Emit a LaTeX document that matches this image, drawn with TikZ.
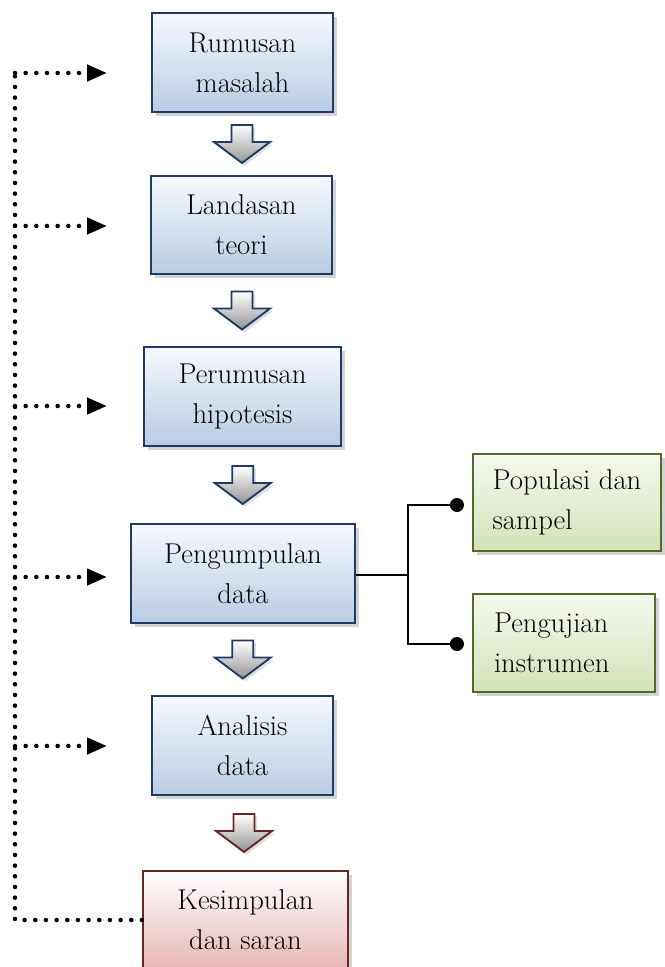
\documentclass[tikz,border=0pt]{standalone}
\usepackage{tikz}
\usetikzlibrary{arrows.meta,calc,positioning,shadows}

\definecolor{navyline}{HTML}{1F3A64}
\definecolor{bluetop}{HTML}{F6F9FD}
\definecolor{bluebot}{HTML}{B8CCE4}
\definecolor{oliveline}{HTML}{55692B}
\definecolor{greentop}{HTML}{F5F9EE}
\definecolor{greenbot}{HTML}{D3E2B7}
\definecolor{maroonline}{HTML}{6A2626}
\definecolor{redbot}{HTML}{E5B7B6}

\newdimen\px
\px=0.75pt

% hollow down arrow between two boxes
\newcommand{\stepdown}[3]{%
  \path ($(#2.south)!0.5!(#3.north)$) coordinate (mid);
  \shade[top color=white,bottom color=black!42,draw=#1,line width=1.4pt,
    drop shadow={shadow xshift=2pt,shadow yshift=-2pt,opacity=0.25}]
    ([shift={(-10.5,-19)}]mid) -- ++(21,0) -- ++(0,17) -- ++(17.5,0)
    -- ++(-28,21) -- ++(-28,-21) -- ++(17.5,0) -- cycle;
}

\begin{document}
\begin{tikzpicture}[
    x=0.75pt,y=-0.75pt,
    box/.style={draw=navyline,line width=1.6pt,top color=bluetop,bottom color=bluebot,
      align=center,inner sep=0pt,text=black,font=\fontsize{21.5}{30}\selectfont,
      drop shadow={shadow xshift=3pt,shadow yshift=-3pt,opacity=0.35}},
    subbox/.style={box,draw=oliveline,top color=greentop,bottom color=greenbot,align=left},
    endbox/.style={box,draw=maroonline,top color=white,bottom color=redbot},
    dotline/.style={line width=3.4pt,line cap=round,dash pattern=on 0pt off 8pt},
    dotarrow/.style={dotline,-{Triangle[length=15pt,width=12pt]}},
    link/.style={line width=1.4pt,-{Circle[length=10.5pt]}}
  ]
    \useasboundingbox (0,0) rectangle (664,967);

    % main column
    \node[box,minimum width=181*\px,minimum height=99*\px] (rumusan) at (242.5,62.5) {Rumusan\\masalah};
    \node[box,minimum width=181*\px,minimum height=98*\px] (landasan) at (241.5,225) {Landasan\\teori};
    \node[box,minimum width=197*\px,minimum height=99*\px] (hipotesis) at (242.5,396.5) {Perumusan\\hipotesis};
    \node[box,minimum width=224*\px,minimum height=99*\px] (pengumpulan) at (243,573.5) {Pengumpulan\\data};
    \node[box,minimum width=181*\px,minimum height=99*\px] (analisis) at (242.5,745.5) {Analisis\\data};
    \node[endbox,minimum width=205*\px,minimum height=98*\px] (kesimpulan) at (245.5,920) {Kesimpulan\\dan saran};

    % side boxes
    \node[subbox,minimum width=188*\px,minimum height=97*\px] (populasi) at (567,502.5) {Populasi dan\\sampel};
    \node[subbox,text width=140*\px,minimum width=182*\px,minimum height=98*\px] (pengujian) at (564,643) {Pengujian\\instrumen};

    % hollow arrows
    \stepdown{navyline}{rumusan}{landasan}
    \stepdown{navyline}{landasan}{hipotesis}
    \stepdown{navyline}{hipotesis}{pengumpulan}
    \stepdown{navyline}{pengumpulan}{analisis}
    \stepdown{maroonline}{analisis}{kesimpulan}

    % feedback rail
    \coordinate (rail) at (15,73);
    \coordinate (tipx) at (107,0);
    \draw[dotline] (kesimpulan.west) -| (rail);
    \foreach \n/\dy [count=\i] in {rumusan/10.5,landasan/1,hipotesis/9.5,pengumpulan/3.5,analisis/0.5}{
      \coordinate (in\i) at ([yshift=-\dy*\px]\n.west);
      \draw[dotarrow] (rail |- in\i) -- (tipx |- in\i);
    }

    % branch to side boxes
    \draw[link] ([yshift=-1.5*\px]pengumpulan.east) -- ++(52,0) coordinate (fork)
      |- ([xshift=-6pt,yshift=-2.5*\px]populasi.west);
    \draw[link] (fork) |- ([xshift=-6pt,yshift=-1*\px]pengujian.west);
  \end{tikzpicture}
\end{document}
